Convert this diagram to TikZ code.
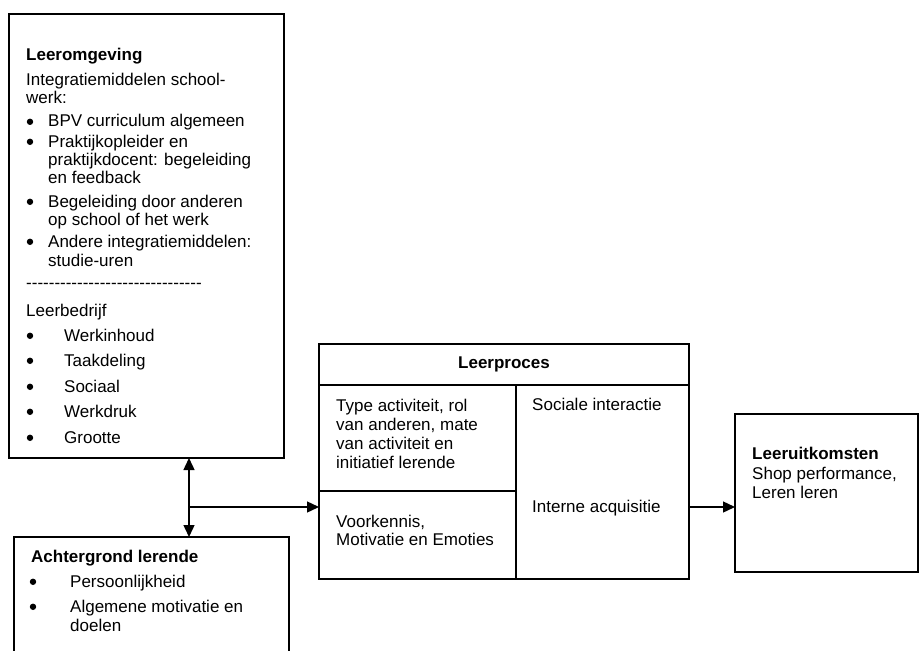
\documentclass[tikz,border=0pt]{standalone}
\usepackage{fontspec}
\setmainfont{Liberation Sans}
\usetikzlibrary{arrows.meta}
\begin{document}
\begin{tikzpicture}[x=1pt,y=-1pt,
  box/.style={draw, line width=1.4pt, rectangle, inner sep=0pt, outer sep=0pt},
  txt/.style={anchor=base west, inner sep=0pt, font=\fontsize{17}{18.5}\selectfont},
  hdr/.style={txt, font=\fontsize{17}{18.5}\selectfont\bfseries},
  ctr/.style={anchor=base, inner sep=0pt, font=\fontsize{17}{18.5}\selectfont\bfseries},
  dot/.style={circle, fill, inner sep=0pt, minimum size=6.4pt, yshift=5.2pt},
  arr/.style={line width=1.4pt, -{Triangle[length=12pt,width=11pt]}},
  darr/.style={line width=1.4pt, {Triangle[length=12pt,width=11pt]}-{Triangle[length=12pt,width=11pt]}},
  sep/.style={line width=1.4pt}
]
\useasboundingbox (0,0) rectangle (920,650);

% boxes
\node[box, minimum width=275pt, minimum height=444pt] (env) at (146.5,236) {};
\node[box, minimum width=275pt, minimum height=128pt] (bg) at (151.5,601) {};
\node[box, minimum width=370pt, minimum height=235pt] (lp) at (504,461.5) {};
\node[box, minimum width=183pt, minimum height=158pt] (out) at (826.5,493) {};

% inner divisions of the learning process box
\draw[sep] (319,385) -- (689,385);
\draw[sep] (516,385) -- (516,579);
\draw[sep] (319,491) -- (516,491);

% learning environment
\node[hdr] (e0) at (26,61) {Leeromgeving};
\node[txt] (e1) at (26,86) {Integratiemiddelen school-};
\node[txt] (e2) at (26,104) {werk:};
\node[dot] (eb1) at (30,127) {};
\node[txt] (e3) at (48,127) {BPV curriculum algemeen};
\node[dot] (eb2) at (30,147) {};
\node[txt] (e4) at (48,147) {Praktijkopleider en};
\node[txt] (e5) at (48,165) {praktijkdocent: begeleiding};
\node[txt] (e6) at (48,183) {en feedback};
\node[dot] (eb3) at (30,207) {};
\node[txt] (e7) at (48,207) {Begeleiding door anderen};
\node[txt] (e8) at (48,225) {op school of het werk};
\node[dot] (eb4) at (30,247) {};
\node[txt] (e9) at (48,247) {Andere integratiemiddelen:};
\node[txt] (e10) at (48,266) {studie-uren};
\node[txt] (e11) at (26,288) {-{}-{}-{}-{}-{}-{}-{}-{}-{}-{}-{}-{}-{}-{}-{}-{}-{}-{}-{}-{}-{}-{}-{}-{}-{}-{}-{}-{}-{}-{}-};
\node[txt] (e12) at (26,316) {Leerbedrijf};
\node[dot] (eb5) at (30,341) {};
\node[txt] (e13) at (64,341) {Werkinhoud};
\node[dot] (eb6) at (30,366) {};
\node[txt] (e14) at (64,366) {Taakdeling};
\node[dot] (eb7) at (30,392) {};
\node[txt] (e15) at (64,392) {Sociaal};
\node[dot] (eb8) at (30,417) {};
\node[txt] (e16) at (64,417) {Werkdruk};
\node[dot] (eb9) at (30,443) {};
\node[txt] (e17) at (64,443) {Grootte};

% learner background
\node[hdr] (g0) at (31,562) {Achtergrond lerende};
\node[dot] (gb1) at (33,587) {};
\node[txt] (g1) at (70,587) {Persoonlijkheid};
\node[dot] (gb2) at (33,612) {};
\node[txt] (g2) at (70,612) {Algemene motivatie en};
\node[txt] (g3) at (70,631) {doelen};

% learning process
\node[ctr] (p0) at (504,368) {Leerproces};
\node[txt] (p1) at (336,411) {Type activiteit, rol};
\node[txt] (p2) at (336,430) {van anderen, mate};
\node[txt] (p3) at (336,449) {van activiteit en};
\node[txt] (p4) at (336,468) {initiatief lerende};
\node[txt] (p5) at (336,527) {Voorkennis,};
\node[txt] (p6) at (336,545) {Motivatie en Emoties};
\node[txt] (p7) at (532,410) {Sociale interactie};
\node[txt] (p8) at (532,512) {Interne acquisitie};

% learning outcomes
\node[hdr] (o0) at (752,459) {Leeruitkomsten};
\node[txt] (o1) at (752,479) {Shop performance,};
\node[txt] (o2) at (752,498) {Leren leren};

% connectors
\coordinate (jn) at (189,507);
\draw[darr] (env.south -| jn) -- (bg.north -| jn);
\draw[arr] (jn) -- (jn -| lp.west);
\draw[arr] (lp.east |- jn) -- (jn -| out.west);
\end{tikzpicture}
\end{document}
